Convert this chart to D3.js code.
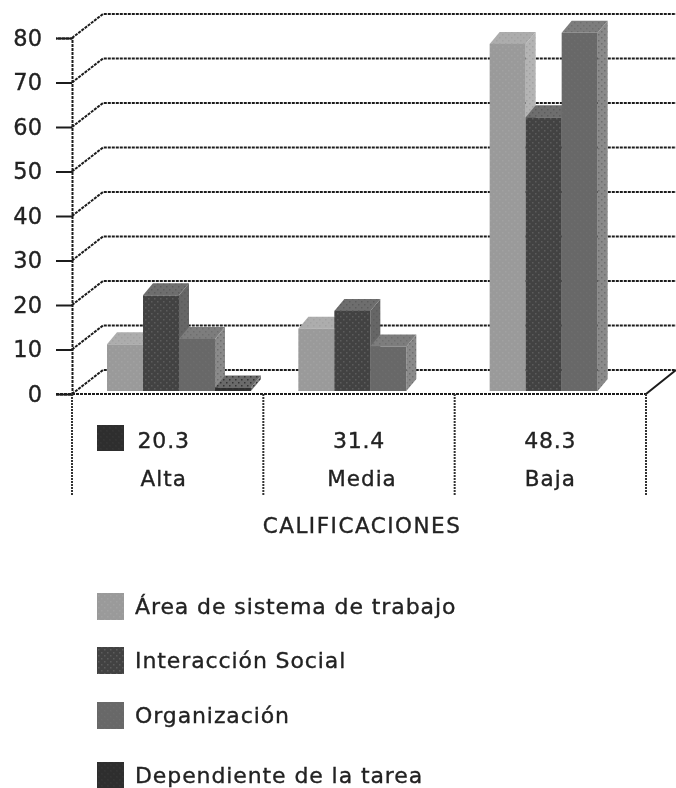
<!DOCTYPE html>
<html>
<head>
<meta charset="utf-8">
<script src="https://d3js.org/d3.v7.min.js"></script>
<style>
  html, body { margin: 0; padding: 0; background: #fff; }
  svg { display: block; }
  text { font-family: "DejaVu Sans", sans-serif; fill: #222; stroke: #222; stroke-width: 0.35; }
</style>
</head>
<body>
<div id="vis"></div>
<script>
// Chart values
const categories = ["Alta", "Media", "Baja"];
const tableValues = ["20.3", "31.4", "48.3"];
const seriesNames = ["Área de sistema de trabajo", "Interacción Social", "Organización", "Dependiente de la tarea"];
const areaTrabajo = [10.5, 14, 78];
const interaccion = [21.5, 18, 61.5];
const organizacion = [11.7, 10, 80.5];
const dependiente = [0.8, 0, 0];
const yTicks = [0, 10, 20, 30, 40, 50, 60, 70, 80];
const axisTitle = "CALIFICACIONES";

const allSeries = [areaTrabajo, interaccion, organizacion, dependiente];

const W = 676, H = 788;
const M = {l: 72, r: 646, t: 38, b: 394};
const depth = {x: 31, y: 24};      // back wall offset
const barDepth = {x: 10, y: 12};   // bar extrusion
const barLift = 3;                 // bars stand a little behind the front edge

// front, top, side colours + dither colour per series
const swatch = [
  {front: "#9a9a9a", top: "#adadad", side: "#b4b4b4", dot: "#a2a2a2"},
  {front: "#434343", top: "#6e6e6e", side: "#666666", dot: "#5c5c5c"},
  {front: "#686868", top: "#7d7d7d", side: "#8a8a8a", dot: "#6e6e6e"},
  {front: "#2f2f2f", top: "#6a6a6a", side: "#7a7a7a", dot: "#363636"}
];

const svg = d3.select("#vis").append("svg").attr("width", W).attr("height", H);
const defs = svg.append("defs");
defs.append("filter").attr("id", "soft")
  .attr("x", 0).attr("y", 0).attr("width", 1).attr("height", 1)
  .append("feGaussianBlur").attr("stdDeviation", 0.7);

// simple dither so the fills look like the scanned original
function ditherFill(id, base, dot) {
  const p = defs.append("pattern").attr("id", id)
    .attr("width", 6).attr("height", 6).attr("patternUnits", "userSpaceOnUse");
  p.append("rect").attr("width", 6).attr("height", 6).attr("fill", base);
  p.append("rect").attr("x", 1).attr("y", 1).attr("width", 1.5).attr("height", 1.5).attr("fill", dot);
  p.append("rect").attr("x", 4).attr("y", 4).attr("width", 1.5).attr("height", 1.5).attr("fill", dot);
  return `url(#${id})`;
}
const fills = swatch.map((s, i) => ({
  front: ditherFill("front" + i, s.front, s.dot),
  top: ditherFill("top" + i, s.top, s.dot),
  side: ditherFill("side" + i, s.side, s.dot)
}));

const x0 = d3.scaleBand().domain(categories).range([M.l, M.r]);
const x1 = d3.scaleBand().domain(d3.range(seriesNames.length)).range([35, 179]);
const y = d3.scaleLinear().domain([0, 80]).range([M.b, M.t]);

// a full-size backing rect keeps the blur filter region on the whole page
const root = svg.append("g").attr("filter", "url(#soft)");
root.append("rect").attr("width", W).attr("height", H).attr("fill", "#fff");
const line = "#1c1c1c";
const dash = "3,1";

// back wall grid, slanted part then across to the edge
const grid = root.append("g");
grid.selectAll("path").data(yTicks).enter().append("path")
  .attr("fill", "none").attr("stroke", line).attr("stroke-width", 2).attr("stroke-dasharray", dash)
  .attr("d", d => `M${M.l},${y(d)}L${M.l + depth.x},${y(d) - depth.y}L${W},${y(d) - depth.y}`);

// floor right edge
root.append("path").attr("fill", "none").attr("stroke", line).attr("stroke-width", 2)
  .attr("d", `M${M.r},${y(0)}L${M.r + depth.x - 1},${y(0) - depth.y}`);

// y axis
const axis = root.append("g").attr("transform", `translate(${M.l},0)`)
  .call(d3.axisLeft(y).tickValues(yTicks).tickSize(16).tickPadding(14));
axis.select(".domain").attr("stroke", line).attr("stroke-width", 2).attr("stroke-dasharray", dash);
axis.selectAll(".tick line").attr("stroke", line).attr("stroke-width", 2);
axis.selectAll("text").attr("font-size", 22.5)
  .style("font-family", '"DejaVu Sans", sans-serif').attr("fill", "#222");

// 3d bars
const barsG = root.append("g");
allSeries.forEach((values, s) => {
  values.forEach((v, c) => {
    if (v <= 0) return;
    const xl = x0(categories[c]) + x1(s);
    const xr = xl + x1.bandwidth();
    const yb = y(0) - barLift;
    const yt = y(v) - barLift;
    const dx = barDepth.x, dy = barDepth.y;
    barsG.append("polygon").attr("fill", fills[s].side)
      .attr("points", [[xr, yt], [xr + dx, yt - dy], [xr + dx, yb - dy], [xr, yb]].join(" "));
    barsG.append("polygon").attr("fill", fills[s].top)
      .attr("points", [[xl, yt], [xl + dx, yt - dy], [xr + dx, yt - dy], [xr, yt]].join(" "));
    barsG.append("rect").attr("x", xl).attr("y", yt)
      .attr("width", x1.bandwidth()).attr("height", yb - yt).attr("fill", fills[s].front);
  });
});

// front floor line drawn over the bar feet
root.append("line").attr("x1", M.l - 16).attr("x2", M.r)
  .attr("y1", y(0)).attr("y2", y(0))
  .attr("stroke", line).attr("stroke-width", 2).attr("stroke-dasharray", dash);

// table separators below the axis
root.selectAll(".sep").data([...categories.map(c => x0(c)), M.r]).enter().append("line")
  .attr("class", "sep").attr("x1", d => d).attr("x2", d => d)
  .attr("y1", y(0)).attr("y2", 495)
  .attr("stroke", "#333").attr("stroke-width", 2).attr("stroke-dasharray", "2,1");

// data table
root.selectAll(".val").data(categories).enter().append("text")
  .attr("class", "val").attr("x", d => x0(d) + x0.bandwidth() / 2 - (d === "Alta" ? 4 : 0))
  .attr("y", 448).attr("text-anchor", "middle").attr("font-size", 22).attr("letter-spacing", 0.8)
  .text((d, i) => tableValues[i]);
root.selectAll(".cat").data(categories).enter().append("text")
  .attr("class", "cat").attr("x", d => x0(d) + x0.bandwidth() / 2 + (d === "Alta" ? -4 : d === "Media" ? 3 : 0))
  .attr("y", 486).attr("text-anchor", "middle").attr("font-size", 21.5).attr("letter-spacing", 1)
  .text(d => d);
root.append("rect").attr("x", 97).attr("y", 425).attr("width", 27).attr("height", 26).attr("fill", fills[3].front);

root.append("text").attr("x", 362).attr("y", 533).attr("text-anchor", "middle")
  .attr("font-size", 21.5).attr("letter-spacing", 1.5).text(axisTitle);

// legend
const legendY = [606, 660, 715, 775];
const legend = root.selectAll(".leg").data(seriesNames).enter().append("g").attr("class", "leg")
  .attr("transform", (d, i) => `translate(97,${legendY[i]})`);
legend.append("rect").attr("y", -13).attr("width", 27).attr("height", 27).attr("fill", (d, i) => fills[i].front);
legend.append("text").attr("x", 38).attr("y", 8).attr("font-size", 22).attr("letter-spacing", 0.9).text(d => d);
</script>
</body>
</html>
